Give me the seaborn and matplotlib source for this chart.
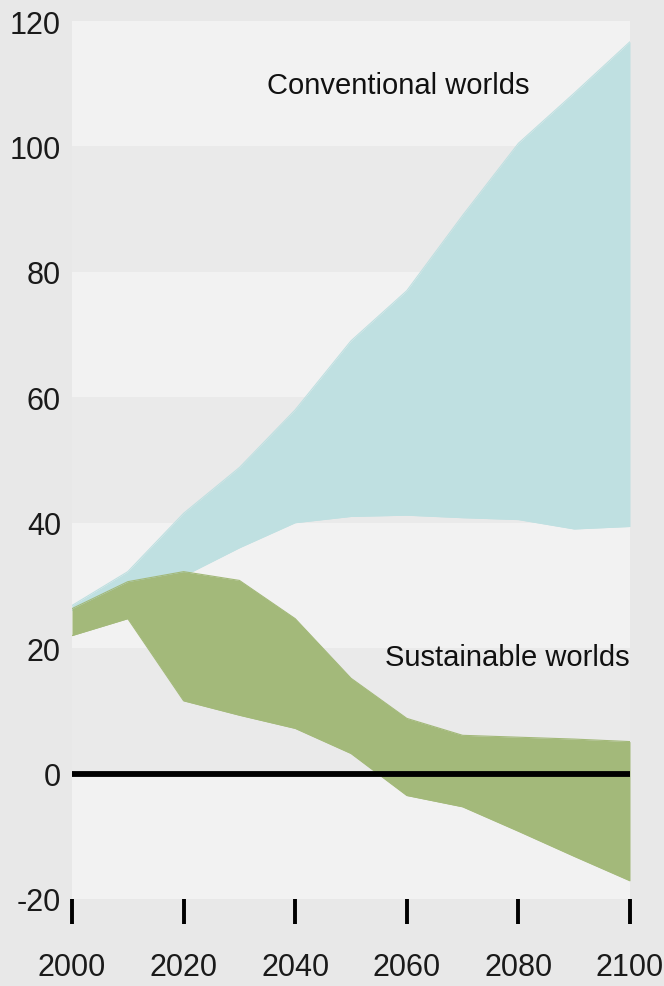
import matplotlib
matplotlib.use("Agg")
import matplotlib.pyplot as plt
import seaborn as sns
import pandas as pd

# values
years = [2000, 2010, 2020, 2030, 2040, 2050, 2060, 2070, 2080, 2090, 2100]
conv_high = [26.8, 32.2, 41.5, 48.8, 58.0, 69.0, 77.0, 89.0, 100.5, 108.5, 116.7]
conv_low = [26.0, 29.5, 31.5, 36.0, 40.0, 41.0, 41.2, 40.8, 40.5, 39.0, 39.4]
sust_high = [26.3, 30.6, 32.2, 30.8, 24.7, 15.2, 8.8, 6.1, 5.8, 5.5, 5.1]
sust_low = [22.0, 24.7, 11.6, 9.3, 7.2, 3.2, -3.5, -5.3, -9.2, -13.2, -17.1]

y_ticks = [-20, 0, 20, 40, 60, 80, 100, 120]
x_ticks = [2000, 2020, 2040, 2060, 2080, 2100]

BLUE = "#bfe0e1"
GREEN = "#a3b97a"
FIG_BG = "#e8e8e8"
BAND_LIGHT = "#f2f2f2"
BAND_DARK = "#eaeaea"

sns.set_theme(style="white")
plt.rcParams["font.family"] = ["Liberation Sans", "DejaVu Sans"]
plt.rcParams["axes.unicode_minus"] = False

df = pd.DataFrame({
    "year": years,
    "conv_high": conv_high, "conv_low": conv_low,
    "sust_high": sust_high, "sust_low": sust_low,
})
conv_long = df.melt(id_vars="year", value_vars=["conv_high", "conv_low"],
                    var_name="edge", value_name="value")
sust_long = df.melt(id_vars="year", value_vars=["sust_high", "sust_low"],
                    var_name="edge", value_name="value")

fig = plt.figure(figsize=(6.64, 9.87), dpi=100, facecolor=FIG_BG)
ax = fig.add_axes([72 / 664, 1 - 900 / 987, (630 - 72) / 664, (900 - 22) / 987])
ax.set_facecolor(BAND_LIGHT)

# alternating horizontal bands
for i, lo in enumerate(y_ticks[:-1]):
    ax.axhspan(lo, lo + 20, color=BAND_LIGHT if i % 2 == 0 else BAND_DARK,
               lw=0, zorder=0)

# conventional worlds range
ax.fill_between(df["year"], df["conv_low"], df["conv_high"], color=BLUE,
                lw=0, zorder=1)
sns.lineplot(data=conv_long, x="year", y="value", hue="edge", ax=ax,
             legend=False, palette=[BLUE, BLUE], lw=0.8, zorder=1.1)

# sustainable worlds range
ax.fill_between(df["year"], df["sust_low"], df["sust_high"], color=GREEN,
                lw=0, zorder=2)
sns.lineplot(data=sust_long, x="year", y="value", hue="edge", ax=ax,
             legend=False, palette=[GREEN, GREEN], lw=0.8, zorder=2.1)

ax.axhline(0, color="black", lw=4.2, zorder=3)

ax.text(2058.5, 109.8, "Conventional worlds", fontsize=21, ha="center",
        va="center", color="#111111")
ax.text(2100, 18.6, "Sustainable worlds", fontsize=21, ha="right",
        va="center", color="#111111")

ax.set_xlim(2000, 2100)
ax.set_ylim(-20, 120)
ax.set_xticks(x_ticks)
ax.set_yticks(y_ticks)
ax.set_xlabel("")
ax.set_ylabel("")
ax.tick_params(axis="y", length=0, pad=8, labelsize=22, labelcolor="#1a1a1a")
ax.tick_params(axis="x", length=18, width=2.8, color="black", direction="out",
               pad=20, labelsize=22, labelcolor="#1a1a1a")
ax.xaxis.set_ticks_position("bottom")
sns.despine(ax=ax, left=True, bottom=True)

fig.savefig("out.png", dpi=100, facecolor=FIG_BG)
